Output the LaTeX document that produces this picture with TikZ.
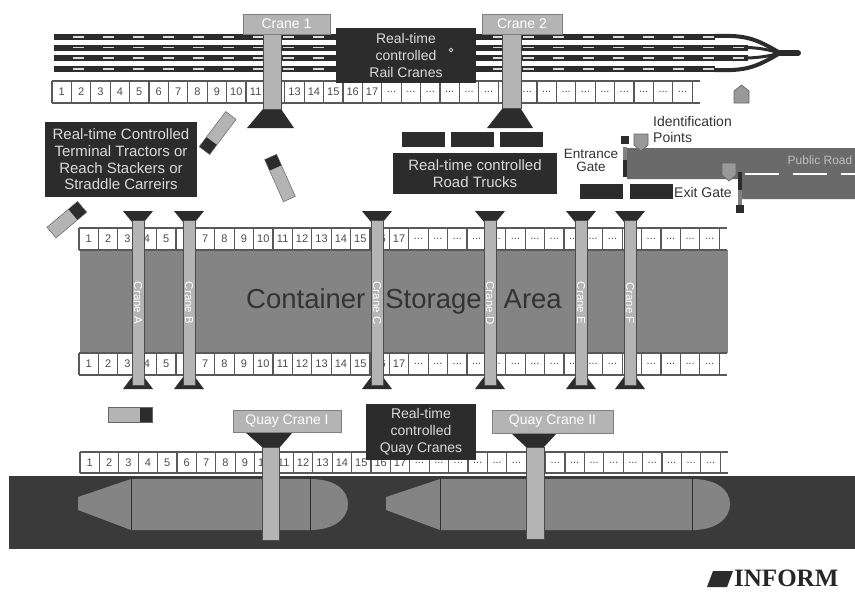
\documentclass[tikz,border=0pt]{standalone}
\usepackage{fontspec}
\setmainfont{Liberation Sans}
\newfontfamily\informfont{Liberation Serif}
\definecolor{blackbox}{HTML}{2C2C2C}
\definecolor{water}{HTML}{3A3A3A}
\definecolor{yard}{HTML}{848484}
\definecolor{steel}{HTML}{B4B4B4}
\definecolor{roadgray}{HTML}{6A6A6A}
\definecolor{paper}{HTML}{DADADA}
\begin{document}
\begin{tikzpicture}[x=1pt,y=-1pt,
    labelbox/.style={fill=blackbox,text=paper,align=center,font=\fontsize{14}{16.7}\selectfont,inner sep=0pt},
    widebox/.style={labelbox,font=\fontsize{15}{16.7}\selectfont},
    cranehead/.style={fill=steel,draw=gray,line width=1pt,text=white,font=\fontsize{14}{14}\selectfont,inner sep=0pt},
    pillar/.style={fill=steel,draw=black!70,line width=0.8pt},
    darkpart/.style={fill=blackbox},
    truck/.style={fill=blackbox,minimum width=43pt,minimum height=15pt,inner sep=0pt},
    idmark/.style={fill=black!40,draw=black!60,line width=0.7pt},
    plainlabel/.style={text=black!80,align=center,font=\fontsize{14}{16.7}\selectfont,inner sep=0pt}]
    \useasboundingbox (0,0) rectangle (855,592);
    \fill[white] (0,0) rectangle (855,592);
    % Rail tracks
    \foreach \ty/\tend in {37/715,47.5/748,58/748,69/715} {
        \draw[blackbox,line width=6pt] (54,\ty) -- (\tend,\ty);
        \draw[paper,line width=1.6pt,dash pattern=on 11pt off 19pt] (73,\ty) -- (\tend,\ty);
    }
    \draw[blackbox,line width=4pt] (715,36) .. controls (745,35) and (755,38) .. (780,53);
    \draw[blackbox,line width=3pt] (748,47.5) .. controls (760,48) and (770,50) .. (780,53);
    \draw[blackbox,line width=3pt] (748,58) .. controls (760,57.5) and (770,56) .. (780,53);
    \draw[blackbox,line width=4pt] (715,70) .. controls (745,71) and (755,68) .. (780,53);
    \draw[blackbox,line width=6pt,line cap=round] (780,53) -- (798,53);
    % Water and ships
    \fill[water] (9,476) rectangle (855,549);
    \foreach \sx/\sa/\sb in {78/131/310,386/440/692} {
        \fill[yard] (\sx,497) -- (\sa,479) -- (\sb,479) .. controls (\sb+25,479) and (\sb+38,490) .. (\sb+38,504)
            .. controls (\sb+38,518) and (\sb+25,530) .. (\sb,530) -- (\sa,530) -- (\sx,510) -- cycle;
        \draw[blackbox,line width=0.7pt] (\sa,479) -- (\sa,530);
        \draw[blackbox,line width=0.7pt] (\sb,479) -- (\sb,530);
    }
    % Storage area
    \fill[yard] (80,250) rectangle (728,353);
    \node[text=black!80,font=\fontsize{27.5}{27.5}\selectfont,inner sep=0pt] (storage) at (404,301)
        {Container\hspace{20pt}Storage\hspace{22pt}Area};
    % Numbered slots
    \foreach \rx/\ry/\rh/\rname in {52/81/22/railslot,79/228/22/upslot,79/353/22/lowslot,80/452/21/quayslot} {
        \foreach \i in {0,...,33} {
            \draw[black!65,line width=1.2pt] (\rx+\i*19.4,\ry) -- (\rx+\i*19.4,\ry+\rh);
        }
        \draw[black!65,line width=1.2pt] (\rx,\ry) -- (\rx+648,\ry);
        \draw[black!65,line width=1.2pt] (\rx,\ry+\rh) -- (\rx+648,\ry+\rh);
        \foreach \i in {1,...,33} {
            \node[text=black!70,font=\fontsize{11}{12}\selectfont,inner sep=0pt] (\rname\i)
                at (\rx+\i*19.4-9.7,\ry+0.5*\rh) {\ifnum\i<18 \i\else ...\fi};
        }
    }
    % Rail cranes
    \fill[darkpart] (263,109) -- (281,109) -- (294,128) -- (247,128) -- cycle;
    \draw[pillar] (263,34) rectangle (281,109);
    \node[cranehead,minimum width=87pt,minimum height=20pt] (crane1) at (286.5,24) {Crane 1};
    \fill[darkpart] (502,109) -- (521,109) -- (533,128) -- (487,128) -- cycle;
    \draw[pillar] (502,34) rectangle (521,108);
    \node[cranehead,minimum width=80pt,minimum height=20pt] (crane2) at (522,24) {Crane 2};
    \node[labelbox,minimum width=140pt,minimum height=55pt] (railbox) at (406,55.5) {Real-time\\controlled\\Rail Cranes};
    \draw[paper,line width=0.7pt] (451,50) circle (1.8);
    % Yard cranes
    \foreach \cx/\cname in {138/Crane A,189/Crane B,377/Crane C,490/Crane D,581/Crane E,630/Crane F} {
        \fill[darkpart] (\cx-15,211) -- (\cx+15,211) -- (\cx+6,222) -- (\cx-6,222) -- cycle;
        \fill[darkpart] (\cx-6,377) -- (\cx+6,377) -- (\cx+15,389) -- (\cx-15,389) -- cycle;
        \draw[pillar] (\cx-6,220) rectangle (\cx+6,385);
        \node[text=white,rotate=-90,font=\fontsize{11.5}{11.5}\selectfont,inner sep=0pt] at (\cx,303) {\cname};
    }
    % Terminal tractors
    \node[widebox,minimum width=152pt,minimum height=75pt] (tractorbox) at (121,159.5)
        {Real-time Controlled\\Terminal Tractors or\\Reach Stackers or\\Straddle Carreirs};
    \foreach \vx/\vy/\vrot/\vl/\vw in {217.7/133/233/22/6.5,280/178/114/23/6.5,66.8/219.7/40/20/7,130/414.5/0/22/7.5} {
        \begin{scope}[shift={(\vx,\vy)},rotate=\vrot]
            \fill[steel] (-\vl,-\vw) rectangle (\vl,\vw);
            \fill[darkpart] (\vl-12,-\vw) rectangle (\vl,\vw);
            \draw[black!60,line width=0.5pt] (-\vl,-\vw) rectangle (\vl,\vw);
        \end{scope}
    }
    % Road trucks
    \node[truck] (truckA) at (423,139.5) {};
    \node[truck] (truckB) at (472,139.5) {};
    \node[truck] (truckC) at (521,139.5) {};
    \node[widebox,minimum width=164pt,minimum height=41pt] (truckbox) at (475,173.5) {Real-time controlled\\Road Trucks};
    \node[truck] (truckD) at (601,191.5) {};
    \node[truck] (truckE) at (651,191.5) {};
    % Public road
    \fill[roadgray] (627,148) -- (855,148) -- (855,199) -- (742,199) -- (742,179) -- (627,179) -- cycle;
    \draw[white,line width=2pt,dash pattern=on 34pt off 14pt] (745,174) -- (855,174);
    \node[text=black!25,font=\fontsize{12}{12}\selectfont,inner sep=0pt] (publicroad) at (820,160) {Public Road};
    % Gates
    \fill[blackbox] (621,136) rectangle (629,144);
    \fill[gray] (623,147) rectangle (627,160);
    \fill[blackbox] (623,160) rectangle (627,177);
    \fill[blackbox] (738,172) rectangle (742,190);
    \fill[gray] (738,190) rectangle (742,205);
    \fill[blackbox] (736,205) rectangle (744,213);
    % Identification points
    \draw[idmark] (634,134) -- (648,134) -- (648,145) -- (641,151) -- (634,145) -- cycle;
    \draw[idmark] (722,163) -- (736,163) -- (736,175) -- (729,181) -- (722,175) -- cycle;
    \draw[idmark] (734,103) -- (749,103) -- (749,91) -- (741.5,85) -- (734,91) -- cycle;
    \node[plainlabel,align=left,anchor=west] (idlabel) at (653,129.5) {Identification\\Points};
    \node[plainlabel,font=\fontsize{13.5}{13.5}\selectfont] (entrancelabel) at (591,160.5) {Entrance\\Gate};
    \node[plainlabel,anchor=west] (exitlabel) at (674,192) {Exit Gate};
    % Quay cranes
    \fill[darkpart] (245,432) -- (293,432) -- (280,447) -- (262,447) -- cycle;
    \draw[pillar] (262,447) rectangle (279,540);
    \node[cranehead,minimum width=108pt,minimum height=22pt] (quaycrane1) at (287,421) {Quay Crane I};
    \fill[darkpart] (511,433) -- (557,433) -- (544,447) -- (526,447) -- cycle;
    \draw[pillar] (526,447) rectangle (544,539);
    \node[cranehead,minimum width=121pt,minimum height=23pt] (quaycrane2) at (552.5,421.5) {Quay Crane II};
    \node[labelbox,minimum width=110pt,minimum height=56pt] (quaybox) at (421,432) {Real-time\\controlled\\Quay Cranes};
    % Logo
    \fill[blackbox] (713,571) -- (733,571) -- (727,587) -- (707,587) -- cycle;
    \node[text=black!85,anchor=base west,font=\informfont\bfseries\fontsize{25}{25}\selectfont,inner sep=0pt] (inform) at (734,586.5) {INFORM};
\end{tikzpicture}
\end{document}
